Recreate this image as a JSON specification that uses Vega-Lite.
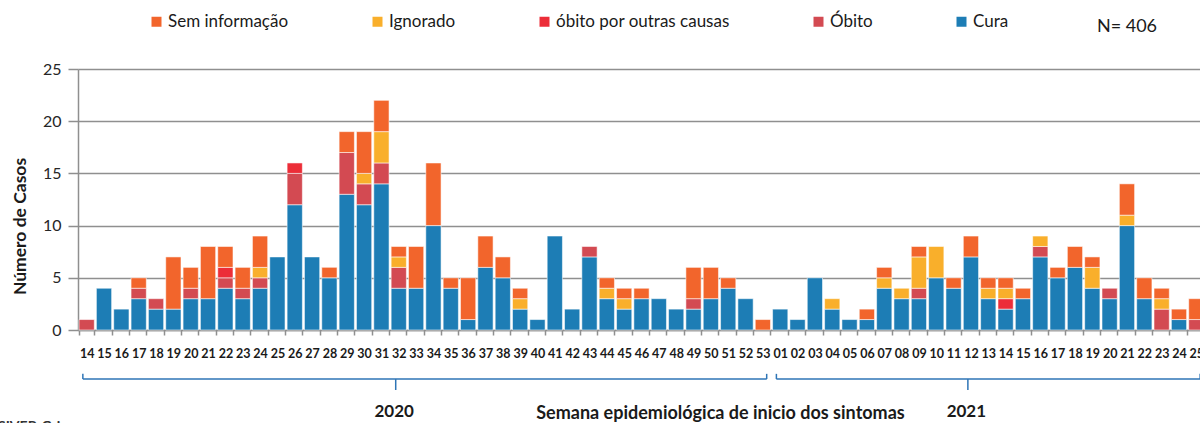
{
  "$schema": "https://vega.github.io/schema/vega-lite/v6.json",
  "autosize": {"type": "none"},
  "padding": {"left": 78, "top": 69, "right": 0, "bottom": 93},
  "width": 1122,
  "height": 261,
  "config": {
    "view": {"stroke": null},
    "font": "Lato",
    "axis": {"labelFont": "Lato", "titleFont": "Lato"}
  },
  "datasets": {
    "categorias": [
      {"categoria": "Cura", "ordem": 1},
      {"categoria": "Óbito", "ordem": 2},
      {"categoria": "óbito por outras causas", "ordem": 3},
      {"categoria": "Ignorado", "ordem": 4},
      {"categoria": "Sem informação", "ordem": 5}
    ]
  },
  "layer": [
    {
      "data": {"values": [
        {"semana":"2020-14","categoria":"Óbito","casos":1},
        {"semana":"2020-15","categoria":"Cura","casos":4},
        {"semana":"2020-16","categoria":"Cura","casos":2},
        {"semana":"2020-17","categoria":"Cura","casos":3},{"semana":"2020-17","categoria":"Óbito","casos":1},{"semana":"2020-17","categoria":"Sem informação","casos":1},
        {"semana":"2020-18","categoria":"Cura","casos":2},{"semana":"2020-18","categoria":"Óbito","casos":1},
        {"semana":"2020-19","categoria":"Cura","casos":2},{"semana":"2020-19","categoria":"Sem informação","casos":5},
        {"semana":"2020-20","categoria":"Cura","casos":3},{"semana":"2020-20","categoria":"Óbito","casos":1},{"semana":"2020-20","categoria":"Sem informação","casos":2},
        {"semana":"2020-21","categoria":"Cura","casos":3},{"semana":"2020-21","categoria":"Sem informação","casos":5},
        {"semana":"2020-22","categoria":"Cura","casos":4},{"semana":"2020-22","categoria":"Óbito","casos":1},{"semana":"2020-22","categoria":"óbito por outras causas","casos":1},{"semana":"2020-22","categoria":"Sem informação","casos":2},
        {"semana":"2020-23","categoria":"Cura","casos":3},{"semana":"2020-23","categoria":"Óbito","casos":1},{"semana":"2020-23","categoria":"Sem informação","casos":2},
        {"semana":"2020-24","categoria":"Cura","casos":4},{"semana":"2020-24","categoria":"Óbito","casos":1},{"semana":"2020-24","categoria":"Ignorado","casos":1},{"semana":"2020-24","categoria":"Sem informação","casos":3},
        {"semana":"2020-25","categoria":"Cura","casos":7},
        {"semana":"2020-26","categoria":"Cura","casos":12},{"semana":"2020-26","categoria":"Óbito","casos":3},{"semana":"2020-26","categoria":"óbito por outras causas","casos":1},
        {"semana":"2020-27","categoria":"Cura","casos":7},
        {"semana":"2020-28","categoria":"Cura","casos":5},{"semana":"2020-28","categoria":"Sem informação","casos":1},
        {"semana":"2020-29","categoria":"Cura","casos":13},{"semana":"2020-29","categoria":"Óbito","casos":4},{"semana":"2020-29","categoria":"Sem informação","casos":2},
        {"semana":"2020-30","categoria":"Cura","casos":12},{"semana":"2020-30","categoria":"Óbito","casos":2},{"semana":"2020-30","categoria":"Ignorado","casos":1},{"semana":"2020-30","categoria":"Sem informação","casos":4},
        {"semana":"2020-31","categoria":"Cura","casos":14},{"semana":"2020-31","categoria":"Óbito","casos":2},{"semana":"2020-31","categoria":"Ignorado","casos":3},{"semana":"2020-31","categoria":"Sem informação","casos":3},
        {"semana":"2020-32","categoria":"Cura","casos":4},{"semana":"2020-32","categoria":"Óbito","casos":2},{"semana":"2020-32","categoria":"Ignorado","casos":1},{"semana":"2020-32","categoria":"Sem informação","casos":1},
        {"semana":"2020-33","categoria":"Cura","casos":4},{"semana":"2020-33","categoria":"Sem informação","casos":4},
        {"semana":"2020-34","categoria":"Cura","casos":10},{"semana":"2020-34","categoria":"Sem informação","casos":6},
        {"semana":"2020-35","categoria":"Cura","casos":4},{"semana":"2020-35","categoria":"Sem informação","casos":1},
        {"semana":"2020-36","categoria":"Cura","casos":1},{"semana":"2020-36","categoria":"Sem informação","casos":4},
        {"semana":"2020-37","categoria":"Cura","casos":6},{"semana":"2020-37","categoria":"Sem informação","casos":3},
        {"semana":"2020-38","categoria":"Cura","casos":5},{"semana":"2020-38","categoria":"Sem informação","casos":2},
        {"semana":"2020-39","categoria":"Cura","casos":2},{"semana":"2020-39","categoria":"Ignorado","casos":1},{"semana":"2020-39","categoria":"Sem informação","casos":1},
        {"semana":"2020-40","categoria":"Cura","casos":1},
        {"semana":"2020-41","categoria":"Cura","casos":9},
        {"semana":"2020-42","categoria":"Cura","casos":2},
        {"semana":"2020-43","categoria":"Cura","casos":7},{"semana":"2020-43","categoria":"Óbito","casos":1},
        {"semana":"2020-44","categoria":"Cura","casos":3},{"semana":"2020-44","categoria":"Ignorado","casos":1},{"semana":"2020-44","categoria":"Sem informação","casos":1},
        {"semana":"2020-45","categoria":"Cura","casos":2},{"semana":"2020-45","categoria":"Ignorado","casos":1},{"semana":"2020-45","categoria":"Sem informação","casos":1},
        {"semana":"2020-46","categoria":"Cura","casos":3},{"semana":"2020-46","categoria":"Sem informação","casos":1},
        {"semana":"2020-47","categoria":"Cura","casos":3},
        {"semana":"2020-48","categoria":"Cura","casos":2},
        {"semana":"2020-49","categoria":"Cura","casos":2},{"semana":"2020-49","categoria":"Óbito","casos":1},{"semana":"2020-49","categoria":"Sem informação","casos":3},
        {"semana":"2020-50","categoria":"Cura","casos":3},{"semana":"2020-50","categoria":"Sem informação","casos":3},
        {"semana":"2020-51","categoria":"Cura","casos":4},{"semana":"2020-51","categoria":"Sem informação","casos":1},
        {"semana":"2020-52","categoria":"Cura","casos":3},
        {"semana":"2020-53","categoria":"Sem informação","casos":1},
        {"semana":"2021-01","categoria":"Cura","casos":2},
        {"semana":"2021-02","categoria":"Cura","casos":1},
        {"semana":"2021-03","categoria":"Cura","casos":5},
        {"semana":"2021-04","categoria":"Cura","casos":2},{"semana":"2021-04","categoria":"Ignorado","casos":1},
        {"semana":"2021-05","categoria":"Cura","casos":1},
        {"semana":"2021-06","categoria":"Cura","casos":1},{"semana":"2021-06","categoria":"Sem informação","casos":1},
        {"semana":"2021-07","categoria":"Cura","casos":4},{"semana":"2021-07","categoria":"Ignorado","casos":1},{"semana":"2021-07","categoria":"Sem informação","casos":1},
        {"semana":"2021-08","categoria":"Cura","casos":3},{"semana":"2021-08","categoria":"Ignorado","casos":1},
        {"semana":"2021-09","categoria":"Cura","casos":3},{"semana":"2021-09","categoria":"Óbito","casos":1},{"semana":"2021-09","categoria":"Ignorado","casos":3},{"semana":"2021-09","categoria":"Sem informação","casos":1},
        {"semana":"2021-10","categoria":"Cura","casos":5},{"semana":"2021-10","categoria":"Ignorado","casos":3},
        {"semana":"2021-11","categoria":"Cura","casos":4},{"semana":"2021-11","categoria":"Sem informação","casos":1},
        {"semana":"2021-12","categoria":"Cura","casos":7},{"semana":"2021-12","categoria":"Sem informação","casos":2},
        {"semana":"2021-13","categoria":"Cura","casos":3},{"semana":"2021-13","categoria":"Ignorado","casos":1},{"semana":"2021-13","categoria":"Sem informação","casos":1},
        {"semana":"2021-14","categoria":"Cura","casos":2},{"semana":"2021-14","categoria":"óbito por outras causas","casos":1},{"semana":"2021-14","categoria":"Ignorado","casos":1},{"semana":"2021-14","categoria":"Sem informação","casos":1},
        {"semana":"2021-15","categoria":"Cura","casos":3},{"semana":"2021-15","categoria":"Sem informação","casos":1},
        {"semana":"2021-16","categoria":"Cura","casos":7},{"semana":"2021-16","categoria":"Óbito","casos":1},{"semana":"2021-16","categoria":"Ignorado","casos":1},
        {"semana":"2021-17","categoria":"Cura","casos":5},{"semana":"2021-17","categoria":"Sem informação","casos":1},
        {"semana":"2021-18","categoria":"Cura","casos":6},{"semana":"2021-18","categoria":"Sem informação","casos":2},
        {"semana":"2021-19","categoria":"Cura","casos":4},{"semana":"2021-19","categoria":"Ignorado","casos":2},{"semana":"2021-19","categoria":"Sem informação","casos":1},
        {"semana":"2021-20","categoria":"Cura","casos":3},{"semana":"2021-20","categoria":"Óbito","casos":1},
        {"semana":"2021-21","categoria":"Cura","casos":10},{"semana":"2021-21","categoria":"Ignorado","casos":1},{"semana":"2021-21","categoria":"Sem informação","casos":3},
        {"semana":"2021-22","categoria":"Cura","casos":3},{"semana":"2021-22","categoria":"Sem informação","casos":2},
        {"semana":"2021-23","categoria":"Óbito","casos":2},{"semana":"2021-23","categoria":"Ignorado","casos":1},{"semana":"2021-23","categoria":"Sem informação","casos":1},
        {"semana":"2021-24","categoria":"Cura","casos":1},{"semana":"2021-24","categoria":"Sem informação","casos":1},
        {"semana":"2021-25","categoria":"Óbito","casos":1},{"semana":"2021-25","categoria":"Sem informação","casos":2}
      ]},
      "transform": [
        {"lookup": "categoria", "from": {"data": {"name": "categorias"}, "key": "categoria", "fields": ["ordem"]}}
      ],
      "mark": {"type": "bar", "stroke": "#ffffff", "strokeWidth": 1, "strokeOpacity": 0.55},
      "encoding": {
        "x": {
          "field": "semana", "type": "nominal",
          "scale": {"range": [0, 1127], "paddingInner": 0.12, "paddingOuter": 0.06},
          "axis": {
            "title": "Semana epidemiológica de inicio dos sintomas",
            "titleFont": "Lato", "titleFontSize": 18, "titleFontWeight": "bold", "titleColor": "#1a1a1a",
            "titleX": 642, "titleY": 83, "titleAlign": "center", "titleBaseline": "middle", "titleAnchor": null,
            "labelExpr": "substring(datum.label, 5)", "labelAngle": 0,
            "labelFont": "Lato", "labelFontSize": 12.5, "labelFontWeight": "bold", "labelColor": "#1a1a1a",
            "labelPadding": 12, "labelBaseline": "top",
            "tickBand": "extent", "tickSize": 5, "tickColor": "#8f8f8f", "tickWidth": 1.5,
            "domainColor": "#8f8f8f", "domainWidth": 1.5,
            "grid": false
          }
        },
        "y": {
          "field": "casos", "type": "quantitative", "aggregate": "sum",
          "scale": {"domain": [0, 25], "nice": false},
          "axis": {
            "title": "Número de Casos",
            "titleFont": "Lato", "titleFontSize": 17.5, "titleFontWeight": "bold", "titleColor": "#1a1a1a",
            "titleX": -58, "titleY": 157, "titleAngle": -90, "titleAlign": "center", "titleBaseline": "middle", "titleAnchor": null,
            "values": [0, 5, 10, 15, 20, 25],
            "labelFont": "Lato", "labelFontSize": 16, "labelColor": "#262626", "labelPadding": 7,
            "tickSize": 10, "tickColor": "#8f8f8f", "tickWidth": 1.5,
            "domainColor": "#8f8f8f", "domainWidth": 1.5,
            "grid": true, "gridColor": "#8f8f8f", "gridWidth": 1.5
          }
        },
        "color": {
          "field": "categoria", "type": "nominal",
          "sort": ["Sem informação", "Ignorado", "óbito por outras causas", "Óbito", "Cura"],
          "scale": {
            "range": ["#F2652C", "#F9AF2B", "#EC2D38", "#D34A52", "#1D7DB5"]
          },
          "legend": {
            "title": null, "orient": "none", "direction": "horizontal",
            "legendX": 70, "legendY": -56, "padding": 0,
            "symbolType": "square", "symbolSize": 100, "symbolStrokeWidth": 0,
            "labelFont": "Lato", "labelFontSize": 17, "labelColor": "#1a1a1a", "labelOffset": 3, "labelLimit": 400,
            "columnPadding": 80
          }
        },
        "order": {"field": "ordem", "type": "quantitative", "sort": "ascending"}
      }
    },
    {
      "data": {"values": [
        {"ano": "2020", "ini": "2020-14", "meio": "2020-32", "fim": "2020-53"},
        {"ano": "2021", "ini": "2021-01", "meio": "2021-12", "fim": "2021-25"}
      ]},
      "layer": [
        {
          "mark": {"type": "rule", "color": "#2E75B6", "strokeWidth": 1.5},
          "encoding": {
            "x": {"field": "ini", "type": "nominal", "bandPosition": 0.25},
            "x2": {"field": "fim", "bandPosition": 0.75},
            "y": {"datum": -4.7, "type": "quantitative"}
          }
        },
        {
          "mark": {"type": "rule", "color": "#2E75B6", "strokeWidth": 1.5},
          "encoding": {
            "x": {"field": "ini", "type": "nominal", "bandPosition": 0.25},
            "y": {"datum": -4.7, "type": "quantitative"},
            "y2": {"datum": -4.2}
          }
        },
        {
          "mark": {"type": "rule", "color": "#2E75B6", "strokeWidth": 1.5},
          "encoding": {
            "x": {"field": "fim", "type": "nominal", "bandPosition": 0.75},
            "y": {"datum": -4.7, "type": "quantitative"},
            "y2": {"datum": -4.2}
          }
        },
        {
          "mark": {"type": "rule", "color": "#2E75B6", "strokeWidth": 1.5},
          "encoding": {
            "x": {"field": "meio", "type": "nominal", "bandPosition": 0.3},
            "y": {"datum": -4.7, "type": "quantitative"},
            "y2": {"datum": -5.75}
          }
        },
        {
          "mark": {"type": "text", "font": "Lato", "fontSize": 17, "fontWeight": "bold", "color": "#1a1a1a", "baseline": "middle", "align": "center"},
          "encoding": {
            "x": {"field": "meio", "type": "nominal", "bandPosition": 0.2},
            "y": {"datum": -7.85, "type": "quantitative"},
            "text": {"field": "ano"}
          }
        }
      ]
    },
    {
      "data": {"values": [{"rotulo": "N= 406", "semana": "2021-21"}]},
      "mark": {"type": "text", "font": "Lato", "fontSize": 18, "color": "#1a1a1a", "baseline": "middle", "align": "center"},
      "encoding": {
        "x": {"field": "semana", "type": "nominal"},
        "y": {"datum": 29, "type": "quantitative"},
        "text": {"field": "rotulo"}
      }
    },
    {
      "data": {"values": [{"fonte": "SIVEP-Gripe", "semana": "2020-14"}]},
      "mark": {"type": "text", "font": "Lato", "fontSize": 14, "fontWeight": "bold", "color": "#333333", "baseline": "top", "align": "left", "dx": -81},
      "encoding": {
        "x": {"field": "semana", "type": "nominal", "bandPosition": 0},
        "y": {"datum": -8.62, "type": "quantitative"},
        "text": {"field": "fonte"}
      }
    }
  ]
}
